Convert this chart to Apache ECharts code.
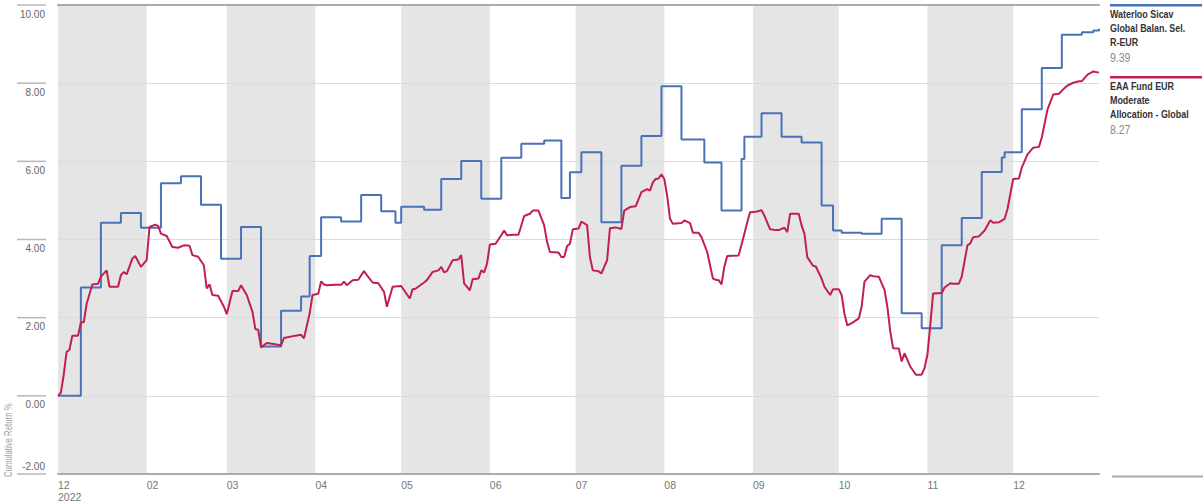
<!DOCTYPE html>
<html>
<head>
<meta charset="utf-8">
<script src="https://cdn.jsdelivr.net/npm/echarts@6/dist/echarts.min.js"></script>
<style>
html,body{margin:0;padding:0;background:#fff;}
#chart{width:1203px;height:503px;}
</style>
</head>
<body>
<div id="chart"></div>
<script>
// ---- data (x = days since 1 Jan 2023) ----
const monthLabels = ['12\n2022','02','03','04','05','06','07','08','09','10','11','12'];
const monthStartDays = [0,31,59,90,120,151,181,212,243,273,304,334];
const axisEndDay = 364;
const yMin = -2, yMax = 10, yStep = 2;
const axisTitle = 'Cumulative Return %';

const waterlooLegend = ['Waterloo Sicav','Global Balan. Sel.','R-EUR'];
const eaaLegend = ['EAA Fund EUR','Moderate','Allocation - Global'];
const waterlooLast = 9.39;
const eaaLast = 8.27;

const waterlooDays = [0,8,15,22,29,36,43,50,57,64,71,78,85,88,92,99,106,113,118,120,128,134,141,148,155,162,170,176,179,183,190,197,204,211,218,226,232,239,240,246,253,260,267,271,274,281,288,295,302,309,316,323,330,331,337,344,351,358,362,364];
const waterlooValues = [0,2.77,4.43,4.68,4.30,5.44,5.62,4.89,3.51,4.32,1.26,2.18,2.54,3.58,4.57,4.46,5.14,4.72,4.43,4.84,4.76,5.55,6.01,5.04,6.09,6.45,6.53,5.06,5.72,6.23,4.44,5.89,6.65,7.92,6.56,5.97,4.74,6.06,6.63,7.23,6.63,6.48,4.87,4.23,4.17,4.15,4.53,2.11,1.73,3.85,4.55,5.73,6.10,6.23,7.33,8.39,9.24,9.30,9.35,9.39];

const eaaDays = [0,1,2,3,4,5,7,8,9,10,11,12,14,15,17,18,21,22,23,24,26,27,29,31,32,34,35,36,38,40,42,44,46,47,49,51,52,53,54,56,58,59,61,63,64,66,68,69,70,71,73,76,78,79,83,85,86,88,89,91,92,93,94,97,99,100,101,103,105,107,108,110,112,114,115,117,120,123,124,125,128,129,131,133,134,135,136,138,140,141,142,144,145,147,148,149,150,151,153,155,156,157,159,161,162,163,165,166,168,170,171,172,175,176,177,178,179,180,182,183,185,186,187,189,190,192,193,195,197,198,200,202,204,206,207,208,209,210,211,212,213,214,215,218,219,221,222,224,225,227,229,230,231,232,233,234,238,240,241,242,244,246,247,249,251,252,254,255,256,259,260,261,262,264,265,267,268,270,271,273,274,275,276,278,280,281,282,284,285,287,289,290,291,292,294,295,296,297,298,300,302,303,304,305,306,309,310,312,313,315,316,318,319,320,322,324,326,327,329,331,332,334,336,337,339,341,343,344,346,348,350,352,353,355,357,358,360,362,364];
const eaaValues = [0,0.08,0.54,1.12,1.18,1.54,1.54,1.88,1.88,2.35,2.6,2.85,2.87,3.05,3.21,2.79,2.79,3.09,3.17,3.11,3.51,3.58,3.30,3.47,4.32,4.38,4.35,4.15,4.09,3.81,3.79,3.85,3.84,3.60,3.56,3.34,2.75,2.85,2.58,2.56,2.28,2.09,2.68,2.68,2.83,2.58,2.15,1.71,1.69,1.24,1.35,1.32,1.29,1.48,1.54,1.56,1.47,2.11,2.58,2.61,2.93,2.85,2.83,2.84,2.84,2.92,2.83,2.96,2.97,3.19,3.09,2.90,2.88,2.66,2.28,2.79,2.81,2.49,2.73,2.74,2.90,2.96,3.17,3.21,3.30,3.16,3.19,3.47,3.49,3.60,2.88,2.70,2.98,3.00,3.21,3.16,3.38,3.87,3.89,4.11,4.23,4.11,4.12,4.12,4.36,4.60,4.66,4.74,4.74,4.36,3.94,3.68,3.67,3.55,3.55,3.83,3.89,4.26,4.28,4.46,4.37,3.55,3.21,3.19,3.13,3.47,4.29,4.31,4.27,4.74,4.83,4.85,5.21,5.29,5.25,5.46,5.55,5.56,5.67,5.55,5.12,4.53,4.40,4.42,4.49,4.42,4.17,4.17,4.06,3.68,3.00,2.97,2.96,2.85,3.30,3.58,3.59,4.15,4.44,4.70,4.71,4.75,4.61,4.26,4.24,4.24,4.30,4.19,4.66,4.66,4.36,4.15,3.55,3.33,3.31,3.00,2.79,2.58,2.73,2.73,2.58,2.10,1.80,1.88,1.98,2.28,2.92,3.09,3.06,3.05,2.71,2.28,1.65,1.22,1.21,0.88,1.09,0.92,0.75,0.54,0.54,0.71,1.05,1.81,2.62,2.63,2.77,2.88,2.87,2.87,3.05,3.85,3.90,4.06,4.08,4.23,4.49,4.43,4.44,4.53,4.78,5.55,5.56,5.84,6.18,6.35,6.37,6.61,7.33,7.71,7.73,7.88,7.94,8.01,8.05,8.05,8.22,8.30,8.27];

// ---- styles ----
const FONT = "'Liberation Sans',Arial,sans-serif";
const NARROW = 0.81;
const BLUE = '#4a72b8';
const RED = '#c21f4e';
const BAND = '#e5e5e5';

const zip = (xs, ys) => xs.map((x, i) => [x, ys[i]]);

// alternate month shading (Jan, Mar, May, ...)
const bands = [];
for (let i = 0; i < monthStartDays.length; i += 2) {
  const end = i + 1 < monthStartDays.length ? monthStartDays[i + 1] : axisEndDay;
  bands.push([{ xAxis: monthStartDays[i] }, { xAxis: end }]);
}

function legendBlock(lines, last, color, top) {
  const els = [{
    type: 'rect', shape: { x: 1110, y: top - 1, width: 92, height: 2.5 },
    style: { fill: color }, silent: true
  }];
  lines.forEach((t, i) => {
    els.push({
      type: 'text', x: 1110, y: top + 9 + i * 14.3, scaleX: NARROW,
      style: { text: t, fill: '#333', font: 'bold 11px ' + FONT, verticalAlign: 'middle', align: 'left' }
    });
  });
  els.push({
    type: 'text', x: 1110, y: top + 9 + lines.length * 14.3 + 1, scaleX: NARROW,
    style: { text: last.toFixed(2), fill: '#8a8a8a', font: '13px ' + FONT, verticalAlign: 'middle', align: 'left' }
  });
  return els;
}

const baseGraphic = [
  {
    type: 'text', x: 9, y: 477, rotation: Math.PI / 2, scaleX: 0.78,
    style: { text: axisTitle, fill: '#a0a0a0', font: '10px ' + FONT, align: 'left', verticalAlign: 'middle' }
  },
  { type: 'rect', shape: { x: 1112, y: 475.5, width: 91, height: 2 }, style: { fill: '#ababab' }, silent: true },
  ...legendBlock(waterlooLegend, waterlooLast, BLUE, 5),
  ...legendBlock(eaaLegend, eaaLast, RED, 77)
];

const chart = echarts.init(document.getElementById('chart'), null, { renderer: 'svg' });
chart.setOption({
  animation: false,
  backgroundColor: '#fff',
  grid: { left: 58, right: 104, top: 5, bottom: 26 },
  xAxis: [{
    type: 'value', min: 0, max: axisEndDay, position: 'bottom', z: 4,
    axisLine: { show: true, onZero: false, lineStyle: { color: '#ababab', width: 2 } },
    axisTick: { show: false },
    splitLine: { show: false },
    axisLabel: {
      customValues: monthStartDays,
      formatter: v => monthLabels[monthStartDays.indexOf(v)],
      color: '#777', fontSize: 10.5, fontFamily: FONT, align: 'left', margin: 5, lineHeight: 12
    }
  }, {
    type: 'value', min: 0, max: axisEndDay, position: 'top', z: 4,
    axisLine: { show: true, onZero: false, lineStyle: { color: '#ababab', width: 2 } },
    axisTick: { show: false }, axisLabel: { show: false }, splitLine: { show: false }
  }],
  yAxis: {
    type: 'value', min: yMin, max: yMax, interval: yStep, offset: 12, z: 2,
    axisLine: { show: false },
    axisTick: { show: false },
    splitLine: { show: true, lineStyle: { color: '#dcdcdc', width: 1 } },
    axisLabel: {
      margin: 1, align: 'right', verticalAlign: 'middle',
      formatter: v => (v === yMin ? '{up|' : '{dn|') + v.toFixed(2) + '}',
      rich: {
        dn: { padding: [18, 0, 0, 0], color: '#666', fontSize: 10, fontFamily: FONT },
        up: { padding: [0, 0, 16, 0], color: '#666', fontSize: 10, fontFamily: FONT }
      }
    }
  },
  graphic: baseGraphic,
  series: [{
    name: 'bands', type: 'line', data: [], z: 1,
    markArea: { silent: true, z: 1, itemStyle: { color: BAND }, data: bands }
  }, {
    name: waterlooLegend.join(' '), type: 'line', step: 'end', z: 3,
    data: zip(waterlooDays, waterlooValues), showSymbol: false, symbol: 'none',
    lineStyle: { color: BLUE, width: 2 }, itemStyle: { color: BLUE }
  }, {
    name: eaaLegend.join(' '), type: 'line', z: 3,
    data: zip(eaaDays, eaaValues), showSymbol: false, symbol: 'none',
    lineStyle: { color: RED, width: 2 }, itemStyle: { color: RED }
  }]
});

// short guide segments under the y tick labels, placed with the axis scale
const tickSegs = [];
for (let v = yMin; v <= yMax; v += yStep) {
  const y = chart.convertToPixel({ yAxisIndex: 0 }, v);
  tickSegs.push({
    type: 'line', z: 100, silent: true,
    shape: { x1: 17, y1: y, x2: 46, y2: y },
    style: { stroke: '#b8b8b8', lineWidth: 1.5 }
  });
}
chart.setOption({ graphic: baseGraphic.concat(tickSegs) });
</script>
</body>
</html>
